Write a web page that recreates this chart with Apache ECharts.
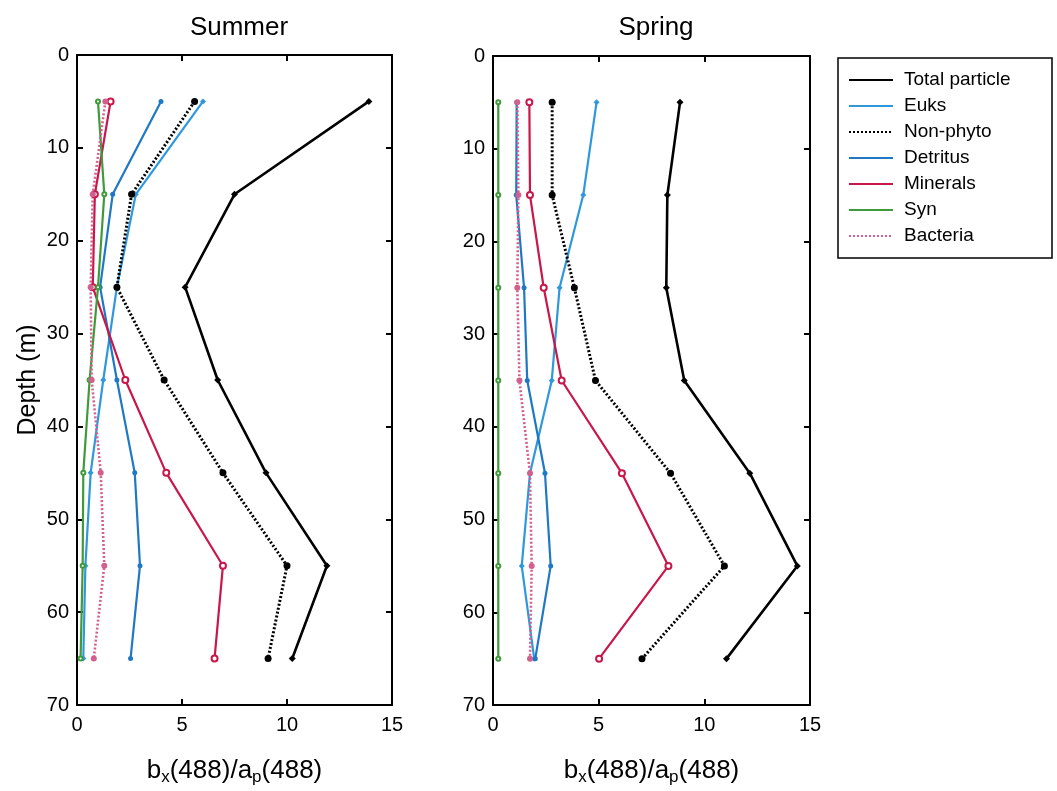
<!DOCTYPE html>
<html>
<head>
<meta charset="utf-8">
<script src="https://cdn.jsdelivr.net/npm/echarts@6/dist/echarts.min.js"></script>
<style>
  html, body { margin: 0; padding: 0; background: #fff; }
  #chart { width: 1057px; height: 791px; }
</style>
</head>
<body>
<div id="chart"></div>
<script>
// depths (m) of the samples
var depths = [5, 15, 25, 35, 45, 55, 65];

// Summer values, b_x(488)/a_p(488)
var summerTotal    = [13.9, 7.5, 5.15, 6.7, 9.0, 11.9, 10.25];
var summerEuks     = [6.0, 2.8, 1.9, 1.25, 0.65, 0.4, 0.3];
var summerNonPhyto = [5.6, 2.6, 1.9, 4.15, 6.95, 10.0, 9.1];
var summerDetritus = [4.0, 1.7, 1.1, 1.9, 2.75, 3.0, 2.55];
var summerMinerals = [1.6, 0.85, 0.75, 2.3, 4.25, 6.95, 6.55];
var summerSyn      = [1.0, 1.3, 1.0, 0.6, 0.3, 0.27, 0.17];
var summerBacteria = [1.35, 0.75, 0.65, 0.7, 1.13, 1.3, 0.8];

// Spring values
var springTotal    = [8.85, 8.25, 8.2, 9.05, 12.15, 14.4, 11.05];
var springEuks     = [4.9, 4.27, 3.15, 2.78, 1.75, 1.36, 1.95];
var springNonPhyto = [2.8, 2.8, 3.85, 4.85, 8.4, 10.95, 7.05];
var springDetritus = [1.12, 1.1, 1.47, 1.62, 2.46, 2.73, 2.0];
var springMinerals = [1.72, 1.75, 2.4, 3.25, 6.1, 8.3, 5.02];
var springSyn      = [0.25, 0.25, 0.25, 0.25, 0.25, 0.25, 0.25];
var springBacteria = [1.15, 1.2, 1.15, 1.25, 1.75, 1.83, 1.75];

var names = ["Total particle", "Euks", "Non-phyto", "Detritus", "Minerals", "Syn", "Bacteria"];

var styles = {
  "Total particle": { color: "#000000", type: "solid", width: 2.6, symbol: "diamond", size: 7 },
  "Euks":           { color: "#2f98dc", type: "solid", width: 2.2, symbol: "diamond", size: 6 },
  "Non-phyto":      { color: "#000000", type: [2, 2], width: 3, symbol: "circle", size: 7 },
  "Detritus":       { color: "#1f78c4", type: "solid", width: 2.2, symbol: "circle", size: 5 },
  "Minerals":       { color: "#c8174a", type: "solid", width: 2.2, symbol: "emptyCircle", size: 6 },
  "Syn":            { color: "#3f9a3a", type: "solid", width: 2.2, symbol: "emptyCircle", size: 4 },
  "Bacteria":       { color: "#d2608f", type: [2, 2], width: 2.6, symbol: "circle", size: 6 }
};

var summer = [summerTotal, summerEuks, summerNonPhyto, summerDetritus, summerMinerals, summerSyn, summerBacteria];
var spring = [springTotal, springEuks, springNonPhyto, springDetritus, springMinerals, springSyn, springBacteria];

var font = "Arial, 'Liberation Sans', sans-serif";

function mkSeries(name, vals, idx) {
  var s = styles[name];
  return {
    name: name,
    type: "line",
    xAxisIndex: idx,
    yAxisIndex: idx,
    data: vals.map(function (v, i) { return [v, depths[i]]; }),
    symbol: s.symbol,
    symbolSize: s.size,
    color: s.color,
    lineStyle: { color: s.color, type: s.type, width: s.width },
    itemStyle: { color: s.color },
    animation: false
  };
}

var series = [];
names.forEach(function (n, i) { series.push(mkSeries(n, summer[i], 0)); });
names.forEach(function (n, i) { series.push(mkSeries(n, spring[i], 1)); });

function xAx(grid, top) {
  return {
    type: "value", gridIndex: grid, min: 0, max: 15, interval: 5,
    position: top ? "top" : "bottom",
    axisLine: { show: true, onZero: false, lineStyle: { color: "#000", width: 2 } },
    axisTick: { show: true, inside: true, length: 6, lineStyle: { color: "#000", width: 2 } },
    axisLabel: { show: !top, color: "#000", fontSize: 20, fontFamily: font, margin: 10 },
    splitLine: { show: false },
    name: top ? "" : "b{sub|x}(488)/a{sub|p}(488)",
    nameLocation: "middle",
    nameGap: 50,
    nameTextStyle: {
      color: "#000", fontSize: 26, fontFamily: font,
      rich: { sub: { fontSize: 17, verticalAlign: "bottom", padding: [14, 0, 0, 0], fontFamily: font } }
    }
  };
}

function yAx(grid, right, label) {
  return {
    type: "value", gridIndex: grid, min: 0, max: 70, interval: 10, inverse: true,
    position: right ? "right" : "left",
    axisLine: { show: true, onZero: false, lineStyle: { color: "#000", width: 2 } },
    axisTick: { show: true, inside: true, length: 6, lineStyle: { color: "#000", width: 2 } },
    axisLabel: { show: !right, color: "#000", fontSize: 20, fontFamily: font, margin: 8 },
    splitLine: { show: false },
    name: label || "",
    nameLocation: "middle",
    nameGap: 36,
    nameTextStyle: { color: "#000", fontSize: 25, fontFamily: font }
  };
}

var chart = echarts.init(document.getElementById("chart"), null, { renderer: "canvas" });
chart.setOption({
  backgroundColor: "#fff",
  animation: false,
  title: [
    { text: "Summer", left: 234, top: 10, textAlign: "center",
      textStyle: { fontSize: 26, fontWeight: "normal", color: "#000", fontFamily: font } },
    { text: "Spring", left: 651, top: 10, textAlign: "center",
      textStyle: { fontSize: 26, fontWeight: "normal", color: "#000", fontFamily: font } }
  ],
  legend: {
    data: names,
    orient: "vertical",
    left: 838,
    top: 58,
    padding: [12, 10, 12, 10],
    itemWidth: 44,
    itemHeight: 14,
    itemGap: 6,
    borderColor: "#000",
    borderWidth: 1.5,
    itemStyle: { opacity: 0 },
    textStyle: { fontSize: 19, lineHeight: 20, width: 138, color: "#000", fontFamily: font, padding: [0, 0, 0, 6] }
  },
  grid: [
    { left: 77, top: 55, width: 315, height: 654 },
    { left: 493, top: 56, width: 317, height: 654 }
  ],
  xAxis: [xAx(0, false), xAx(1, false), xAx(0, true), xAx(1, true)],
  yAxis: [yAx(0, false, "Depth (m)"), yAx(1, false), yAx(0, true), yAx(1, true)],
  series: series
});
</script>
</body>
</html>
